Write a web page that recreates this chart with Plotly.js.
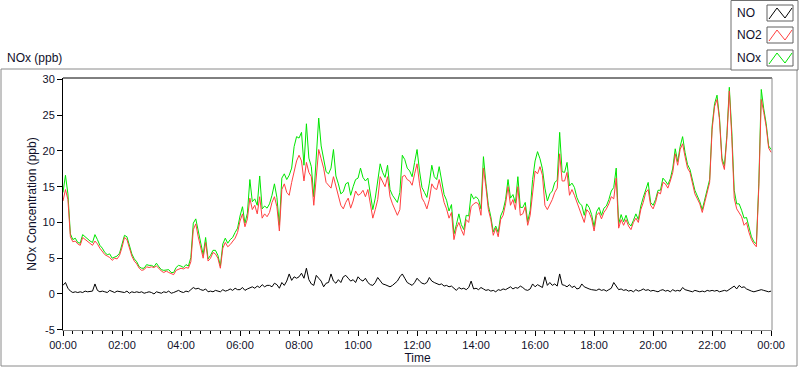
<!DOCTYPE html>
<html><head><meta charset="utf-8">
<script src="https://cdn.plot.ly/plotly-3.0.1.min.js"></script>
<style>html,body{margin:0;padding:0;background:#fff;}#chart{width:800px;height:369px;}</style>
</head><body><div id="chart"></div>
<script>
// 5-minute samples from 00:00 to 24:00
const stepMinutes = 5;
const no2 = [
13.0,14.6,13.2,8.0,7.3,7.4,7.0,6.8,7.9,7.6,7.3,7.1,
6.8,7.4,7.0,6.4,6.0,5.5,5.3,5.1,4.7,5.0,4.9,5.4,
6.5,7.9,7.6,6.4,5.3,4.6,4.2,3.6,3.3,3.4,3.8,3.7,
3.8,3.7,3.9,3.6,3.2,3.0,3.2,3.0,2.9,2.7,3.3,3.5,
3.6,3.5,3.7,3.6,4.5,9.0,9.8,8.0,6.5,5.0,7.2,4.6,
5.0,5.8,5.6,5.0,3.6,6.4,7.2,6.6,6.9,7.4,7.8,8.6,
10.2,11.2,9.4,10.5,13.4,11.8,12.4,11.2,13.6,10.6,11.2,10.8,
11.4,12.8,13.6,12.2,8.8,14.6,15.4,14.2,13.8,15.6,17.2,18.6,
19.4,18.6,15.8,18.4,17.0,16.4,12.4,16.2,20.2,18.9,17.6,15.6,
15.2,14.8,16.4,15.0,13.4,12.4,11.9,12.8,13.4,12.0,13.0,14.4,
13.8,14.0,14.5,13.6,14.6,12.8,10.6,11.8,13.2,16.4,15.6,15.0,
16.4,13.6,12.6,11.8,11.0,11.8,16.4,16.6,16.0,15.8,15.2,16.8,
18.2,15.4,13.4,12.8,11.9,13.2,15.4,14.8,14.6,16.0,14.6,12.8,
11.9,10.6,11.4,7.6,9.2,10.0,9.0,8.2,10.4,10.0,12.2,12.6,
12.8,12.6,11.0,17.6,15.0,11.8,10.4,8.2,9.2,8.0,10.4,11.0,
12.6,15.0,12.4,13.2,11.8,15.0,11.0,11.2,12.2,9.6,11.0,14.6,
17.2,16.8,17.8,16.6,12.4,11.8,12.4,13.2,14.2,14.8,19.6,15.8,
15.8,17.0,13.8,14.6,13.8,12.8,11.9,11.0,10.0,11.8,11.4,10.5,
8.8,11.0,11.4,10.5,11.4,11.9,12.6,13.6,13.3,16.2,9.2,10.4,
9.6,10.4,9.5,9.0,10.0,10.6,10.0,11.8,12.8,14.2,14.6,12.4,
11.9,12.8,14.2,14.0,15.6,15.4,14.8,15.8,17.0,19.6,18.0,20.2,
21.0,19.2,17.6,17.0,15.6,14.0,13.3,12.6,11.4,12.8,13.8,15.6,
23.0,26.2,27.2,24.4,18.6,17.4,21.8,28.4,22.0,13.4,11.9,11.4,
10.8,9.6,10.0,8.6,7.6,7.0,6.6,15.0,27.2,25.4,23.4,20.4,
19.8];
const nox = [
14.2,16.6,14.0,8.4,7.6,7.8,7.2,7.1,8.3,8.0,7.6,7.4,
7.2,8.3,7.6,6.8,6.4,5.8,5.5,5.6,5.0,5.2,5.3,5.7,
6.8,8.2,8.0,6.6,5.6,4.9,4.5,3.8,3.6,3.6,4.1,4.0,
4.0,3.8,4.3,3.8,3.4,3.3,3.4,3.4,3.0,3.0,3.7,4.0,
3.9,3.7,4.1,3.9,5.1,9.9,10.5,8.8,7.1,5.5,7.9,4.9,
5.4,6.1,6.1,5.4,3.9,7.0,7.8,7.1,7.6,7.9,8.6,9.2,
10.9,12.2,9.9,11.3,16.0,12.9,13.3,12.4,16.5,11.9,12.3,12.0,
12.6,13.8,15.4,13.5,9.6,16.2,16.8,16.0,16.6,17.6,20.6,22.0,
21.8,22.6,18.0,23.8,19.0,17.8,13.6,18.8,24.6,20.7,18.6,17.1,
16.8,17.6,20.2,16.5,15.4,14.0,14.3,15.4,15.6,13.8,15.0,16.0,
16.2,17.6,16.3,15.8,16.2,14.1,11.8,13.4,15.5,18.2,17.0,16.3,
18.0,14.6,13.8,13.3,12.8,14.2,19.4,18.8,17.6,17.2,16.4,18.4,
20.2,17.2,14.9,14.2,13.5,15.5,18.0,16.4,16.0,17.8,16.0,13.9,
13.1,11.6,12.5,8.4,9.7,11.2,9.7,9.0,11.0,10.9,14.0,13.3,
13.6,13.2,11.9,19.2,15.5,12.4,10.8,8.7,9.5,8.6,10.9,11.7,
13.2,16.0,13.4,13.9,12.7,16.4,12.1,12.1,12.8,10.1,11.7,16.0,
18.6,19.9,18.9,17.5,14.8,13.0,14.0,14.4,15.6,15.9,22.6,17.1,
17.0,18.4,15.1,15.5,14.9,13.5,12.7,12.4,11.0,12.6,12.1,11.1,
9.4,11.5,12.1,11.0,12.0,12.3,13.2,14.4,14.9,17.6,9.8,11.1,
10.1,11.0,9.9,9.5,10.3,11.2,10.4,12.3,13.5,14.7,15.6,12.8,
12.4,13.2,14.5,14.5,16.2,15.8,15.3,16.1,17.6,20.3,18.5,20.6,
22.0,19.8,18.1,17.4,15.9,14.5,13.7,12.9,11.8,13.1,14.3,16.0,
23.5,26.6,27.8,24.7,19.0,17.9,22.2,28.9,22.8,14.5,12.6,12.6,
11.7,10.6,10.7,9.1,8.0,7.3,7.0,15.5,28.6,25.9,23.8,20.7,
20.2];
const no = [
1.2,1.6,0.8,0.4,0.2,0.3,0.2,0.3,0.2,0.4,0.3,0.3,
0.4,1.4,0.5,0.3,0.4,0.3,0.2,0.5,0.3,0.2,0.4,0.3,
0.3,0.2,0.4,0.1,0.3,0.2,0.3,0.2,0.3,0.1,0.2,0.3,
0.2,0.0,0.3,0.2,0.1,0.3,0.2,0.4,0.1,0.2,0.3,0.5,
0.3,0.2,0.4,0.3,0.6,0.9,0.7,0.8,0.6,0.5,0.7,0.3,
0.4,0.3,0.5,0.4,0.3,0.6,0.4,0.5,0.7,0.5,0.8,0.6,
0.6,0.9,0.5,0.7,0.8,1.0,0.8,1.1,0.9,1.3,1.0,1.2,
1.2,1.0,1.5,1.3,0.8,1.6,1.2,1.8,2.8,1.9,2.4,2.2,
2.4,2.9,2.2,3.6,2.0,1.4,1.2,2.6,2.2,1.8,1.0,1.5,
1.6,2.8,1.8,1.5,2.0,1.6,2.4,2.6,2.2,1.8,2.0,1.6,
2.4,2.0,1.8,2.2,1.6,1.3,1.2,1.6,2.3,1.8,1.4,1.3,
1.1,1.0,1.2,1.5,1.8,2.4,2.8,2.2,1.6,1.4,1.2,1.6,
2.2,1.8,1.5,1.4,1.6,2.3,1.8,1.6,1.4,1.3,1.4,1.1,
1.2,1.0,1.1,0.8,0.5,0.9,0.7,0.8,0.6,0.9,1.8,0.7,
0.8,0.6,0.9,0.7,0.5,0.6,0.4,0.5,0.3,0.6,0.5,0.7,
0.6,0.8,1.0,0.7,0.9,0.8,1.1,0.9,0.6,0.5,0.7,1.4,
1.0,1.3,1.1,0.9,2.4,1.2,1.6,1.2,1.4,1.1,2.8,1.3,
1.2,1.0,1.3,0.9,1.1,0.7,0.8,1.4,1.0,0.8,0.7,0.6,
0.6,0.5,0.7,0.5,0.6,0.4,0.6,0.8,1.6,1.0,0.6,0.7,
0.5,0.6,0.4,0.5,0.3,0.6,0.4,0.5,0.7,0.5,0.6,0.4,
0.5,0.4,0.3,0.5,0.6,0.4,0.5,0.3,0.6,0.4,0.5,0.4,
0.9,0.6,0.5,0.4,0.3,0.5,0.4,0.3,0.4,0.3,0.5,0.4,
0.5,0.4,0.5,0.3,0.4,0.5,0.4,0.6,0.8,1.1,0.7,1.2,
0.9,1.0,0.7,0.5,0.4,0.3,0.4,0.5,0.6,0.5,0.4,0.3,
0.4];
const tickHours = [0,2,4,6,8,10,12,14,16,18,20,22,24];
const tickLabels = ['00:00','02:00','04:00','06:00','08:00','10:00','12:00','14:00','16:00','18:00','20:00','22:00','00:00'];
const yTickValues = [-5,0,5,10,15,20,25,30];
const yTickLabels = ['-5','0','5','10','15','20','25','30'];
const seriesNames = ['NO','NO2','NOx'];
const seriesColors = ['#000000','#ff4040','#00e600'];

const hours = no2.map((_, i) => i * stepMinutes / 60);

// plot area in pixels: x 63..772, y 78..330
const L = 63, R = 772, T = 78, B = 330;
const PX = x => (x - L) / (R - L);
const PY = y => (B - y) / (B - T);
const font = 'Liberation Sans, Arial, sans-serif';
const txt = '#10102a';

const traces = [
  {x: hours, y: nox, name: 'NOx', type: 'scatter', mode: 'lines', line: {color: seriesColors[2], width: 1}},
  {x: hours, y: no2, name: 'NO2', type: 'scatter', mode: 'lines', line: {color: seriesColors[1], width: 1}},
  {x: hours, y: no,  name: 'NO',  type: 'scatter', mode: 'lines', line: {color: seriesColors[0], width: 1}}
];

const shapes = [
  {type:'rect', xref:'paper', yref:'paper', x0:PX(1), x1:PX(797), y0:PY(366), y1:PY(69), line:{color:'#8a8a8a', width:1}},
  {type:'line', xref:'paper', yref:'paper', x0:0, x1:1, y0:1, y1:1, line:{color:'#000', width:1}},
  {type:'line', xref:'paper', yref:'paper', x0:1, x1:1, y0:0, y1:1, line:{color:'#8a8a8a', width:1}},
  {type:'rect', xref:'paper', yref:'paper', x0:PX(731), x1:PX(798), y0:PY(70), y1:PY(0.5), fillcolor:'#fff', line:{color:'#707070', width:1}}
];
const annotations = [
  {xref:'paper', yref:'paper', x:PX(5), y:PY(58), xanchor:'left', yanchor:'middle', text:'NOx (ppb)', showarrow:false, font:{family:font, size:12, color:txt}}
];
const boxTops = [5, 27, 50];
for (let i = 0; i < 3; i++) {
  const t = boxTops[i];
  shapes.push({type:'rect', xref:'paper', yref:'paper', x0:PX(767), x1:PX(793), y0:PY(t+16), y1:PY(t), fillcolor:'#fff', line:{color:'#606060', width:1}});
  shapes.push({type:'path', xref:'paper', yref:'paper',
    path:`M ${PX(769)} ${PY(t+14)} L ${PX(777)} ${PY(t+3)} L ${PX(785)} ${PY(t+13)} L ${PX(792)} ${PY(t+3)}`,
    line:{color:seriesColors[i], width:1}});
  annotations.push({xref:'paper', yref:'paper', x:PX(735), y:PY(t+8), xanchor:'left', yanchor:'middle', text:seriesNames[i], showarrow:false, font:{family:font, size:12, color:txt}});
}

const layout = {
  width: 800, height: 369,
  margin: {l: L, r: 800 - R, t: T, b: 369 - B, pad: 0},
  paper_bgcolor: '#fff', plot_bgcolor: '#fff',
  showlegend: false,
  font: {family: font, size: 11, color: txt},
  xaxis: {
    range: [0, 24.03], showgrid: false, zeroline: false,
    showline: true, linecolor: '#8a8a8a', linewidth: 1,
    tickmode: 'array', tickvals: tickHours, ticktext: tickLabels,
    ticks: 'outside', ticklen: 5, tickcolor: '#000', tickwidth: 1,
    minor: {tickmode: 'linear', tick0: 0, dtick: 1/3, ticks: 'outside', ticklen: 3, tickcolor: '#000', showgrid: false},
    tickfont: {family: font, size: 11, color: txt},
    title: {text: 'Time', font: {family: font, size: 12, color: txt}, standoff: 2}
  },
  yaxis: {
    range: [-5.04, 30.2], showgrid: false, zeroline: false,
    showline: true, linecolor: '#000', linewidth: 1,
    tickmode: 'array', tickvals: yTickValues, ticktext: yTickLabels,
    ticks: 'outside', ticklen: 5, tickcolor: '#000',
    tickfont: {family: font, size: 11, color: txt},
    title: {text: 'NOx Concentration (ppb)', font: {family: font, size: 12, color: txt}, standoff: 3}
  },
  shapes: shapes,
  annotations: annotations
};
Plotly.newPlot('chart', traces, layout, {staticPlot: true, displayModeBar: false});
</script></body></html>
